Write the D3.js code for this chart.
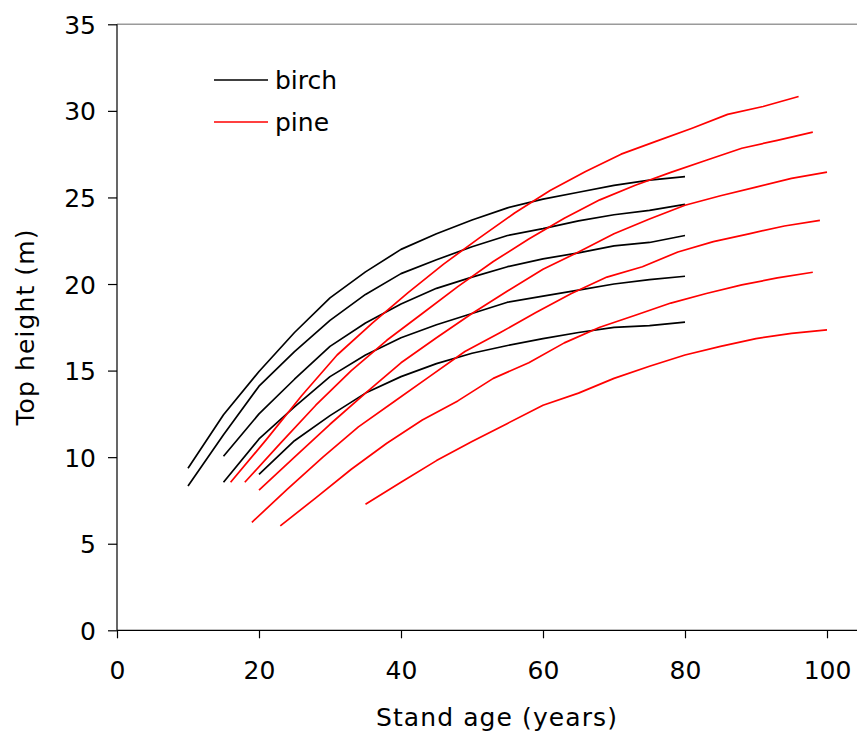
<!DOCTYPE html>
<html>
<head>
<meta charset="utf-8">
<script src="https://cdn.jsdelivr.net/npm/d3@7"></script>
<style>
  html, body { margin: 0; padding: 0; background: #fff; }
  svg { display: block; font-family: "DejaVu Sans", Verdana, sans-serif; }
</style>
</head>
<body>
<svg id="chart" width="857" height="731"></svg>
<script>
// Top height development curves (m) by stand age (years)
const birchAges = [
  [10, 15, 20, 25, 30, 35, 40, 45, 50, 55, 60, 65, 70, 75, 80],
  [10, 15, 20, 25, 30, 35, 40, 45, 50, 55, 60, 65, 70, 75, 80],
  [15, 20, 25, 30, 35, 40, 45, 50, 55, 60, 65, 70, 75, 80],
  [15, 20, 25, 30, 35, 40, 45, 50, 55, 60, 65, 70, 75, 80],
  [20, 25, 30, 35, 40, 45, 50, 55, 60, 65, 70, 75, 80]
];
const birchHeights = [
  [9.36, 12.45, 14.95, 17.2, 19.2, 20.7, 22.0, 22.9, 23.7, 24.4, 24.9, 25.3, 25.7, 26.0, 26.2],
  [8.34, 11.3, 14.1, 16.1, 17.9, 19.4, 20.6, 21.4, 22.15, 22.8, 23.2, 23.65, 24.0, 24.25, 24.6],
  [10.05, 12.5, 14.5, 16.4, 17.75, 18.85, 19.75, 20.4, 21.0, 21.45, 21.8, 22.2, 22.4, 22.8],
  [8.55, 11.05, 12.9, 14.65, 15.9, 16.9, 17.65, 18.3, 18.95, 19.3, 19.65, 20.0, 20.25, 20.45],
  [9.0, 10.95, 12.4, 13.7, 14.65, 15.4, 16.0, 16.45, 16.85, 17.2, 17.5, 17.6, 17.8]
];

const pineAges = [
  [16, 21, 26, 31, 36, 41, 46, 51, 56, 61, 66, 71, 76, 81, 86, 91, 96],
  [18, 23, 28, 33, 38, 43, 48, 53, 58, 63, 68, 73, 78, 83, 88, 93, 98],
  [20, 25, 30, 35, 40, 45, 50, 55, 60, 65, 70, 75, 80, 85, 90, 95, 100],
  [19, 24, 29, 34, 39, 44, 49, 54, 59, 64, 69, 74, 79, 84, 89, 94, 99],
  [23, 28, 33, 38, 43, 48, 53, 58, 63, 68, 73, 78, 83, 88, 93, 98],
  [35, 40, 45, 50, 55, 60, 65, 70, 75, 80, 85, 90, 95, 100]
];
const pineHeights = [
  [8.55, 11.0, 13.55, 15.9, 17.75, 19.5, 21.15, 22.65, 24.1, 25.4, 26.5, 27.5, 28.25, 29.0, 29.8, 30.25, 30.83],
  [8.55, 10.8, 13.0, 15.0, 16.75, 18.3, 19.85, 21.3, 22.6, 23.8, 24.86, 25.7, 26.45, 27.15, 27.84, 28.3, 28.77],
  [8.1, 10.0, 11.9, 13.7, 15.45, 16.9, 18.3, 19.6, 20.85, 21.85, 22.9, 23.75, 24.55, 25.1, 25.6, 26.1, 26.46],
  [6.24, 8.15, 10.0, 11.75, 13.2, 14.65, 16.1, 17.2, 18.35, 19.45, 20.4, 21.0, 21.85, 22.45, 22.9, 23.35, 23.68],
  [6.03, 7.65, 9.3, 10.8, 12.15, 13.25, 14.55, 15.45, 16.6, 17.5, 18.2, 18.9, 19.45, 19.95, 20.35, 20.68],
  [7.28, 8.55, 9.8, 10.9, 11.95, 13.0, 13.7, 14.55, 15.25, 15.9, 16.4, 16.85, 17.15, 17.35]
];

const xTicks = [0, 20, 40, 60, 80, 100];
const yTicks = [0, 5, 10, 15, 20, 25, 30, 35];
const seriesNames = ["birch", "pine"];
const seriesColors = ["#000000", "#ff0000"];
const xTitle = "Stand age (years)";
const yTitle = "Top height (m)";

const svg = d3.select("#chart");
const W = 857;
const x = d3.scaleLinear().domain([0, 100]).range([117, 827]);
const y = d3.scaleLinear().domain([0, 35]).range([630.3, 24.3]);
const fontSize = 25;

// Top frame line in grey
svg.append("line")
  .attr("x1", x(0)).attr("x2", W)
  .attr("y1", y(35)).attr("y2", y(35))
  .attr("stroke", "#9a9a9a").attr("stroke-width", 1.5);

// Curves
const line = d3.line().x(d => x(d[0])).y(d => y(d[1]));
function drawGroup(ages, heights, color) {
  ages.forEach((a, i) => {
    const pts = a.map((v, j) => [v, heights[i][j]]);
    svg.append("path")
      .datum(pts)
      .attr("d", line)
      .attr("fill", "none")
      .attr("stroke", color)
      .attr("stroke-width", 1.7)
      .attr("stroke-linejoin", "round");
  });
}
drawGroup(birchAges, birchHeights, seriesColors[0]);
drawGroup(pineAges, pineHeights, seriesColors[1]);

// X axis
const xAxis = svg.append("g")
  .attr("transform", `translate(0,${y(0)})`)
  .call(d3.axisBottom(x).tickValues(xTicks).tickSize(8).tickPadding(23).tickFormat(d3.format("d")));
xAxis.select(".domain").remove();
xAxis.append("line")
  .attr("x1", x(0)).attr("x2", W).attr("y1", 0).attr("y2", 0)
  .attr("stroke", "#000").attr("stroke-width", 1.2);
xAxis.selectAll("text").attr("font-size", fontSize).attr("fill", "#000")
  .attr("font-family", "DejaVu Sans, sans-serif");
xAxis.selectAll(".tick line").attr("stroke", "#000").attr("stroke-width", 1.2);

// Y axis
const yAxis = svg.append("g")
  .attr("transform", `translate(${x(0)},0)`)
  .call(d3.axisLeft(y).tickValues(yTicks).tickSize(9).tickPadding(12).tickFormat(d3.format("d")));
yAxis.select(".domain").attr("stroke", "#000").attr("stroke-width", 1.2)
  .attr("d", `M0,${y(0)}V${y(35)}`);
yAxis.selectAll("text").attr("font-size", fontSize).attr("fill", "#000")
  .attr("font-family", "DejaVu Sans, sans-serif")
  .attr("dy", "0.36em");
yAxis.selectAll(".tick line").attr("stroke", "#000").attr("stroke-width", 1.2);

// Axis titles
svg.append("text")
  .attr("x", 497).attr("y", 726)
  .attr("text-anchor", "middle")
  .attr("font-size", fontSize)
  .attr("letter-spacing", 1.1)
  .text(xTitle);
svg.append("text")
  .attr("transform", `translate(34,327) rotate(-90)`)
  .attr("text-anchor", "middle")
  .attr("font-size", fontSize)
  .attr("letter-spacing", 1.1)
  .text(yTitle);

// Legend
const legend = svg.append("g");
seriesNames.forEach((name, i) => {
  const ly = 80 + i * 42;
  legend.append("line")
    .attr("x1", 214).attr("x2", 268)
    .attr("y1", ly).attr("y2", ly)
    .attr("stroke", seriesColors[i]).attr("stroke-width", 1.7);
  legend.append("text")
    .attr("x", 275).attr("y", ly + 9)
    .attr("font-size", fontSize)
    .text(name);
});
</script>
</body>
</html>
